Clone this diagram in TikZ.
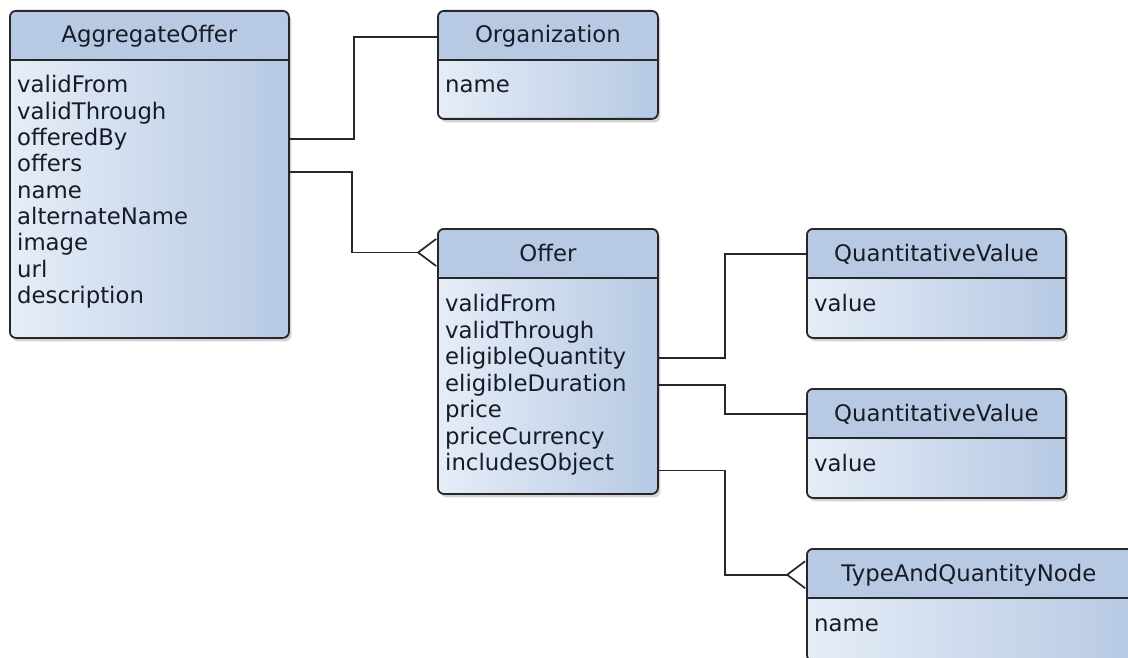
\documentclass[tikz,border=0pt]{standalone}
\usepackage{fontspec}
\setmainfont{DejaVu Sans}
\usetikzlibrary{arrows.meta,shadows}

\definecolor{hdrblue}{HTML}{B8CAE3}
\definecolor{bodylight}{HTML}{E6EDF7}
\definecolor{bodydark}{HTML}{B6C9E3}
\definecolor{boxline}{HTML}{25272B}
\definecolor{inktext}{HTML}{161B27}

\tikzset{
  classbox/.style={draw=boxline, line width=1.8pt, rounded corners=6pt, anchor=north west,
    inner sep=0pt, left color=bodylight, right color=bodydark,
    drop shadow={shadow xshift=2.5pt, shadow yshift=-3.5pt, opacity=.35},
    path picture={
      \fill[hdrblue] (path picture bounding box.north west) rectangle ([yshift=-49pt]path picture bounding box.north east);
      \draw[boxline, line width=1.8pt] ([yshift=-49pt]path picture bounding box.north west) -- ([yshift=-49pt]path picture bounding box.north east);
    }},
  classtitle/.style={anchor=base, inner sep=0pt, text=inktext, font=\fontsize{22.8}{26.5}\selectfont},
  classattr/.style={anchor=base west, inner sep=0pt, text=inktext, font=\fontsize{22.8}{26.5}\selectfont},
  link/.style={draw=boxline, line width=1.7pt},
  many/.style={-{Straight Barb[reversed, length=18pt, width=27pt]}},
}

\begin{document}
\begin{tikzpicture}[x=1pt, y=-1pt]
  \useasboundingbox (0,0) rectangle (1128,658);
  \clip (0,0) rectangle (1128,658);

  %boxes
    \node[classbox, minimum width=279pt, minimum height=327pt] (aggoffer) at (9,10) {};
    \node[classbox, minimum width=220pt, minimum height=108pt] (org) at (437,10) {};
    \node[classbox, minimum width=220pt, minimum height=265pt] (offer) at (437,228) {};
    \node[classbox, minimum width=259pt, minimum height=109pt] (qv1) at (806,228) {};
    \node[classbox, minimum width=259pt, minimum height=109pt] (qv2) at (806,388) {};
    \node[classbox, minimum width=328pt, minimum height=112pt] (taqn) at (806,548) {};

  %titles
    \node[classtitle] (aggoffer-t) at ([yshift=-33pt]aggoffer.north) {AggregateOffer};
    \node[classtitle] (org-t) at ([yshift=-33pt]org.north) {Organization};
    \node[classtitle] (offer-t) at ([yshift=-33pt]offer.north) {Offer};
    \node[classtitle] (qv1-t) at ([yshift=-33pt]qv1.north) {QuantitativeValue};
    \node[classtitle] (qv2-t) at ([yshift=-33pt]qv2.north) {QuantitativeValue};
    \node[classtitle] (taqn-t) at ([xshift=-2pt,yshift=-33pt]taqn.north) {TypeAndQuantityNode};

  %attributes
    \foreach \a [count=\i] in {validFrom,validThrough,offeredBy,offers,name,alternateName,image,url,description}
      \node[classattr] (ao-\i) at ([xshift=8pt,yshift={-83pt-(\i-1)*26.3pt}]aggoffer.north west) {\a};
    \foreach \a [count=\i] in {validFrom,validThrough,eligibleQuantity,eligibleDuration,price,priceCurrency,includesObject}
      \node[classattr] (of-\i) at ([xshift=8pt,yshift={-83.5pt-(\i-1)*26.5pt}]offer.north west) {\a};
    \node[classattr] (org-1) at ([xshift=8pt,yshift=-83pt]org.north west) {name};
    \node[classattr] (qv1-1) at ([xshift=8pt,yshift=-83pt]qv1.north west) {value};
    \node[classattr] (qv2-1) at ([xshift=8pt,yshift=-83pt]qv2.north west) {value};
    \node[classattr] (taqn-1) at ([xshift=8pt,yshift=-83pt]taqn.north west) {name};

  %links
    \draw[link] (ao-3 -| aggoffer.east) -- ++(64,0) |- (org.west |- org-t);
    \draw[link, many] (ao-4.base -| aggoffer.east) -- ++(62,0) |- (offer.west |- offer-t);
    \draw[link] (of-3 -| offer.east) -- ++(66,0) |- (qv1.west |- qv1-t);
    \draw[link] (of-4 -| offer.east) -- ++(66,0) |- (qv2.west |- qv2-t);
    \draw[link, many] (of-7.base -| offer.east) -- ++(66,0) |- (taqn.west |- taqn-t);
\end{tikzpicture}
\end{document}
